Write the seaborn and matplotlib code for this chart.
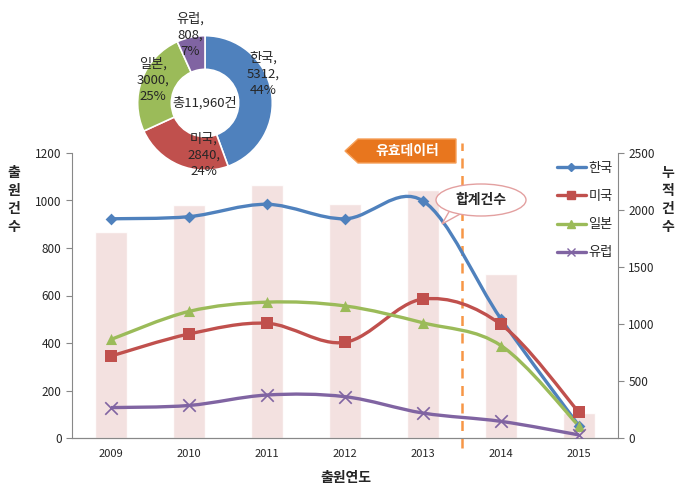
import numpy as np
import pandas as pd
import matplotlib as mpl; mpl.use("Agg")
import matplotlib.pyplot as plt
import seaborn as sns
from matplotlib.path import Path as MPath
from matplotlib.patches import PathPatch, Ellipse, Polygon
from matplotlib.lines import Line2D

# --- datos ---
years = ['2009', '2010', '2011', '2012', '2013', '2014', '2015']
korea = [923, 932, 984, 923, 998, 501, 51]
usa = [345, 438, 483, 403, 585, 478, 108]
japan = [415, 533, 572, 556, 485, 389, 50]
europe = [128, 137, 181, 174, 105, 70, 13]
totals = [1811, 2040, 2220, 2056, 2173, 1438, 222]

countries = ['한국', '미국', '일본', '유럽']
share_vals = [5312, 2840, 3000, 808]
share_pct = ['44%', '24%', '25%', '7%']

colors = ['#4F81BD', '#C0504D', '#9BBB59', '#8064A2']
markers = ['D', 's', '^', 'x']
msizes = [6, 8, 8, 9]

sns.set_style('white')
plt.rcParams['font.family'] = ['Noto Sans CJK KR', 'DejaVu Sans']

fig = plt.figure(figsize=(6.92, 4.96), dpi=100)
ax = fig.add_axes([72/692, 1-438/496, 546/692, 285/496])
ax2 = ax.twinx()

# barras (eje derecho)
df_tot = pd.DataFrame({'year': years, 'total': totals})
sns.barplot(data=df_tot, x='year', y='total', ax=ax2, color='#F2DCDB',
            width=0.4, saturation=1, alpha=0.85)
ax2.set_ylim(0, 2500)
ax2.set_yticks([0, 500, 1000, 1500, 2000, 2500])
ax2.set_ylabel('')
ax2.set_xlabel('')

ax.set_zorder(ax2.get_zorder() + 1)
ax.patch.set_visible(False)


def smooth_path(xs, ys):
    # curva tipo Excel (Catmull-Rom -> Bezier)
    p = np.column_stack([xs, ys]).astype(float)
    n = len(p)
    verts = [p[0]]
    codes = [MPath.MOVETO]
    for i in range(n - 1):
        p0 = p[i - 1] if i > 0 else p[i]
        p3 = p[i + 2] if i + 2 < n else p[i + 1]
        c1 = p[i] + (p[i + 1] - p0) / 6
        c2 = p[i + 1] - (p3 - p[i]) / 6
        verts += [c1, c2, p[i + 1]]
        codes += [MPath.CURVE4] * 3
    return MPath(verts, codes)


long = pd.DataFrame({
    'year': years * 4,
    'x': list(range(len(years))) * 4,
    'country': sum([[c] * len(years) for c in countries], []),
    'value': korea + usa + japan + europe,
})

handles = []
for c, col, mk, ms in zip(countries, colors, markers, msizes):
    sub = long[long['country'] == c]
    ax.add_patch(PathPatch(smooth_path(sub['x'], sub['value']), fc='none',
                           ec=col, lw=2.4, zorder=3))
    sns.scatterplot(x=sub['x'], y=sub['value'], ax=ax, color=col, marker=mk,
                    s=ms**2, linewidth=1.2 if mk == 'x' else 0,
                    edgecolor=col, zorder=4, legend=False)
    handles.append(Line2D([], [], color=col, lw=2.4, marker=mk, markersize=ms * 0.7,
                          label=c))

ax.set_xlim(-0.5, 6.5)
ax.set_ylim(0, 1200)
ax.set_yticks(range(0, 1201, 200))
ax.set_xticks(range(7))
ax.set_xticklabels(years)
ax.set_xticks(np.arange(-0.5, 7, 1), minor=True)
ax.set_xlabel('')
ax.set_ylabel('')
ax.tick_params(axis='x', which='major', length=0, labelsize=8, pad=8)
ax.tick_params(axis='x', which='minor', length=4, direction='out', color='#888888')
ax.tick_params(axis='y', length=4, direction='out', color='#888888', labelsize=8.5)
ax2.tick_params(axis='y', length=4, direction='out', color='#888888', labelsize=8.5)
for a in (ax, ax2):
    for s in a.spines.values():
        s.set_color('#888888')
    a.spines['top'].set_visible(False)
ax2.spines['left'].set_visible(False)
ax.spines['right'].set_visible(False)

# línea vertical discontinua
ax.plot([4.5, 4.5], [-0.035, 1.035], transform=ax.get_xaxis_transform(),
        color='#F79646', lw=1.8, ls=(0, (4, 3)), clip_on=False, zorder=2)

# títulos de ejes
fig.text(14/692, 1-200/496, '출\n원\n건\n수', ha='center', va='center',
         fontsize=10, fontweight='bold', linespacing=1.35)
fig.text(668/692, 1-200/496, '누\n적\n건\n수', ha='center', va='center',
         fontsize=10, fontweight='bold', linespacing=1.35)
fig.text(346/692, 1-478/496, '출원연도', ha='center', va='center',
         fontsize=10, fontweight='bold')

# leyenda
ax.legend(handles=handles, loc='upper left', bbox_to_anchor=(545/692, 1-150/496),
          bbox_transform=fig.transFigure, frameon=False, fontsize=9.5,
          labelspacing=1.15, handlelength=2.2, handletextpad=0.2)

# callout "유효데이터" (etiqueta en forma de flecha)
tag = [(345, 151), (358, 139), (456, 139), (456, 163), (358, 163)]
fig.patches.append(Polygon([(x/692, 1-y/496) for x, y in tag], closed=True,
                           transform=fig.transFigure, fc='#E8761E', ec='#F5A05A', lw=1))
fig.text(407/692, 1-151/496, '유효데이터', ha='center', va='center', fontsize=10,
         fontweight='bold', color='white')

# globo "합계건수"
fig.patches.append(Polygon([[450/692, 1-210/496], [462/692, 1-213/496],
                            [442/692, 1-224/496]], closed=True,
                           transform=fig.transFigure, fc='white', ec='#E3A0A0', lw=1))
fig.patches.append(Ellipse((481/692, 1-200/496), 90/692, 32/496,
                           transform=fig.transFigure, fc='white', ec='#E3A0A0', lw=1))
fig.text(481/692, 1-200/496, '합계건수', ha='center', va='center', fontsize=10,
         fontweight='bold')

# donut
pax = fig.add_axes([137/692, 1-171/496, 136/692, 136/496])
pax.pie(share_vals, colors=colors, startangle=90, counterclock=False,
        wedgeprops=dict(width=0.5, edgecolor='white', linewidth=1.2))
pax.set_xlim(-1.01, 1.01)
pax.set_ylim(-1.01, 1.01)
pax.set_aspect('equal')
fig.text(205/692, 1-103/496, '총11,960건', ha='center', va='center', fontsize=9.5)
label_pos = [(263, 74), (204, 155), (153, 80), (190, 35)]
for (px, py), c, v, pc in zip(label_pos, countries, share_vals, share_pct):
    fig.text(px/692, 1-py/496, f'{c},\n{v},\n{pc}', ha='center', va='center',
             fontsize=9.5, linespacing=1.35)

fig.savefig('out.png', dpi=100)
